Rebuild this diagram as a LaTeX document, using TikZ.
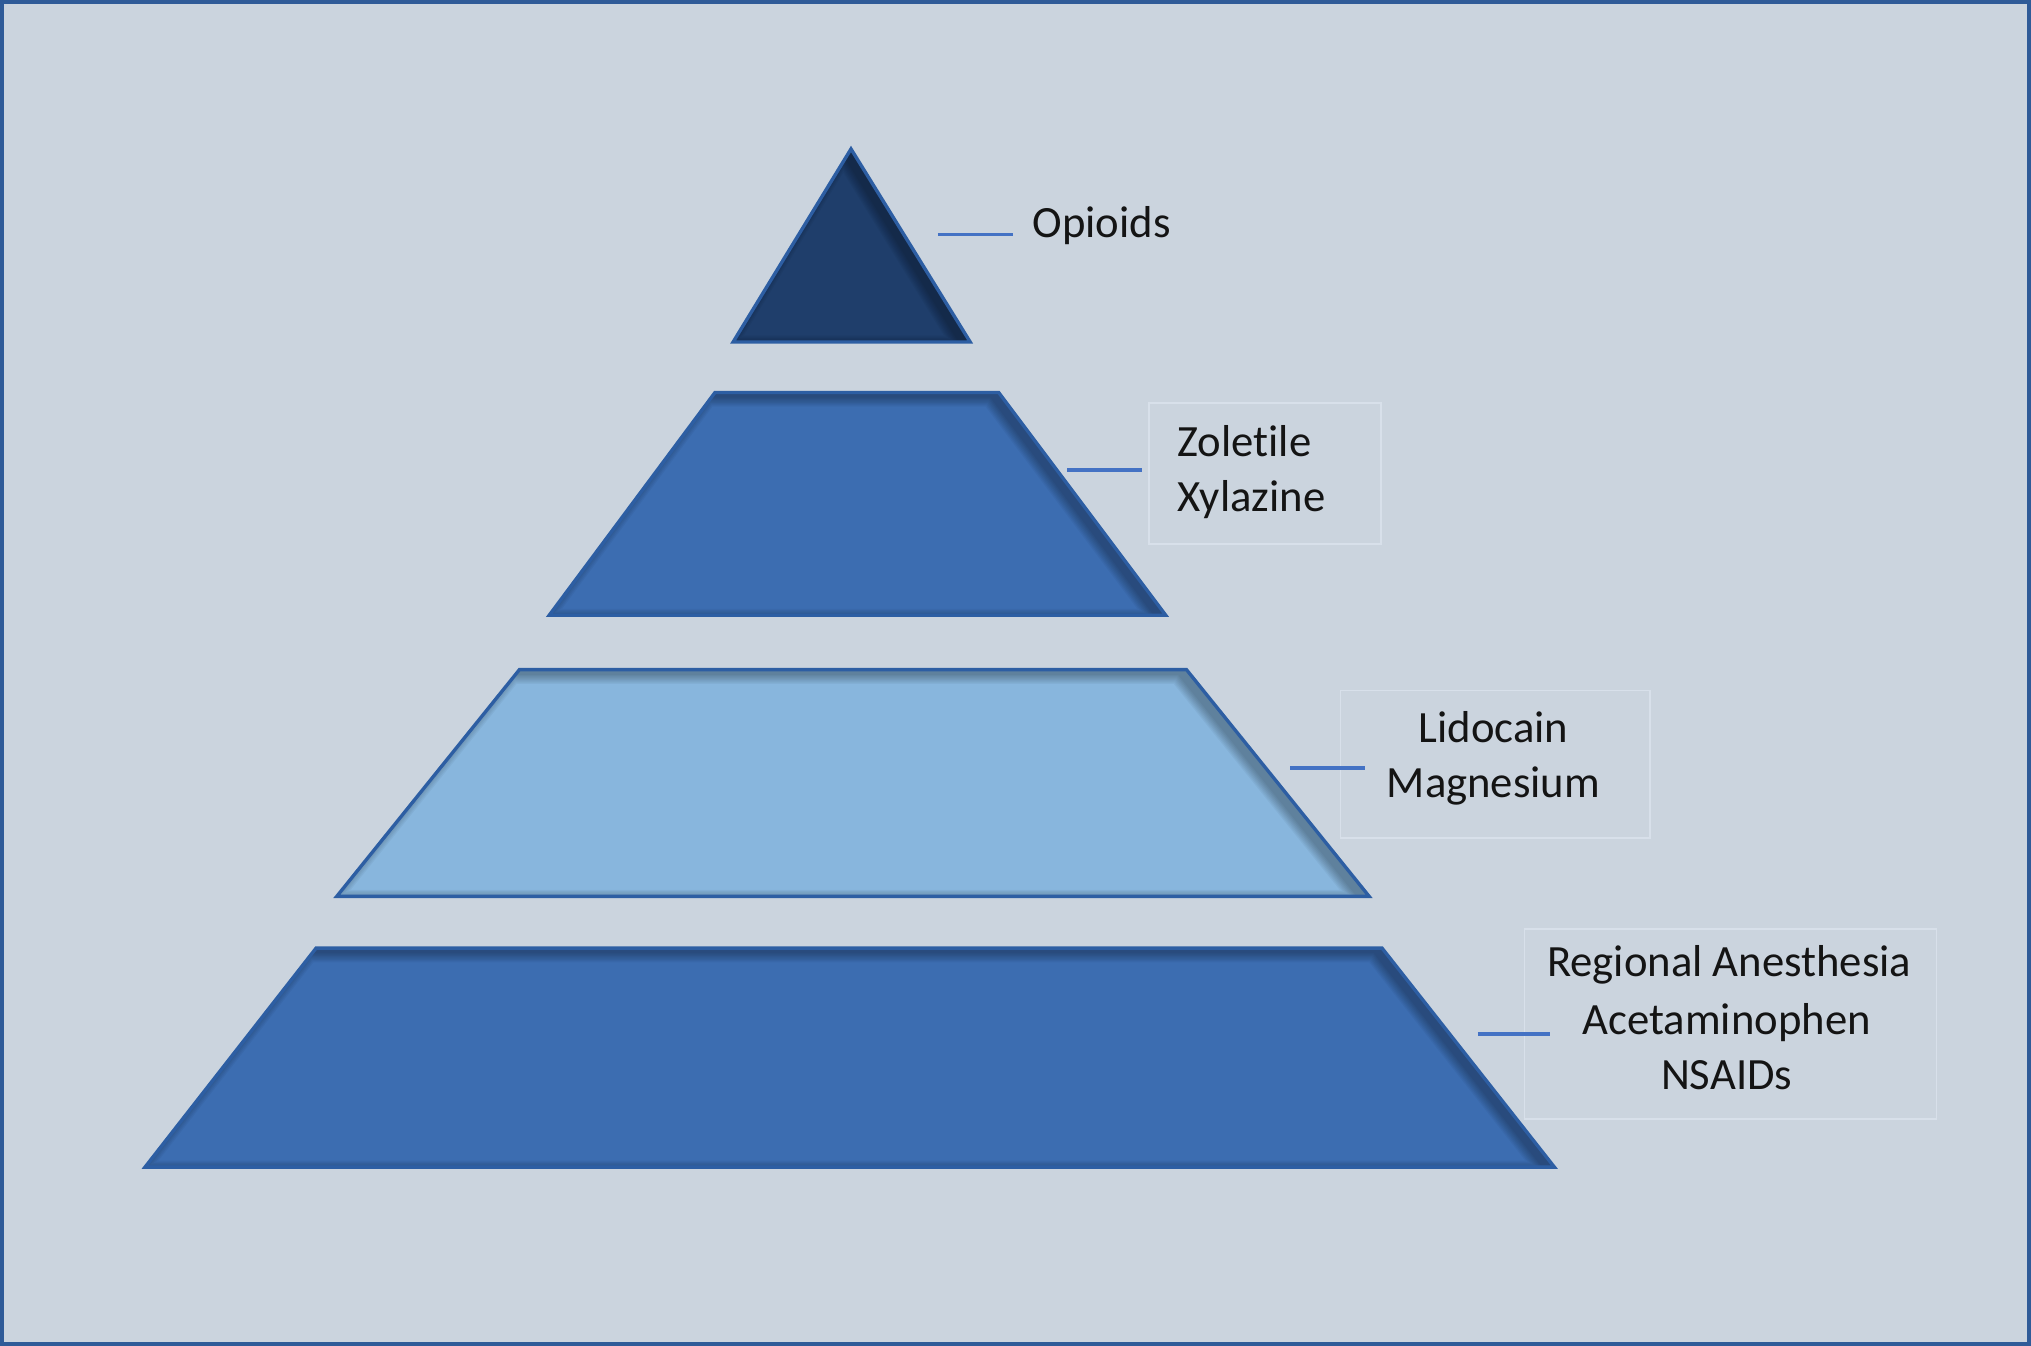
\documentclass[tikz,border=0pt]{standalone}
\usepackage{fontspec}
\setmainfont{Carlito}[Ligatures=NoCommon]
\definecolor{bg}{HTML}{CBD4DE}
\definecolor{frame}{HTML}{2F5B98}
\definecolor{navy}{HTML}{1F3E6B}
\definecolor{midblue}{HTML}{3C6DB1}
\definecolor{lightblue}{HTML}{88B6DD}
\definecolor{edge}{HTML}{2D5EA3}
\definecolor{conn}{HTML}{4472C4}
\definecolor{boxline}{HTML}{D8E0EA}
\tikzset{
  tier/.style={draw=edge, line width=2.6pt, line join=miter},
  connector/.style={draw=conn, line width=3pt},
  lbl/.style={inner sep=0pt, text=black!92, font=\fontsize{34.5}{43}\selectfont},
  labelbox/.style={draw=boxline, line width=1.2pt, fill=none, inner sep=0pt}
}
\newcommand{\tiershadow}[1]{%
  \begin{scope}
    \clip #1;
    \foreach \w in {2,4,...,16}{
      \begin{scope}[transparency group, opacity=0.04]
        \fill[black, even odd rule, shift={(-6,3)}] (-200,-200) rectangle (1800,1300) #1;
        \draw[black, line width=\w pt, line join=round, shift={(-6,3)}] #1;
      \end{scope}
    }
  \end{scope}}
\begin{document}
\begin{tikzpicture}[x=1pt,y=-1pt]
\useasboundingbox (0,0) rectangle (1568,1039);
% background and frame
\fill[bg] (0,0) rectangle (1568,1039);
\draw[frame, line width=3pt] (1.5,1.5) rectangle (1566.5,1037.5);
% tier 1 (triangle)
\fill[navy] (657,115) -- (749,264) -- (566,264) -- cycle;
\tiershadow{(657,115) -- (749,264) -- (566,264) -- cycle}
\draw[tier] (657,115) -- (749,264) -- (566,264) -- cycle;
% tier 2
\fill[midblue] (552,303) -- (771,303) -- (900,475) -- (424,475) -- cycle;
\tiershadow{(552,303) -- (771,303) -- (900,475) -- (424,475) -- cycle}
\draw[tier] (552,303) -- (771,303) -- (900,475) -- (424,475) -- cycle;
% tier 3
\fill[lightblue] (401,517) -- (916,517) -- (1057,692) -- (260,692) -- cycle;
\tiershadow{(401,517) -- (916,517) -- (1057,692) -- (260,692) -- cycle}
\draw[tier] (401,517) -- (916,517) -- (1057,692) -- (260,692) -- cycle;
% tier 4
\fill[midblue] (244,732) -- (1067,732) -- (1200,901) -- (112,901) -- cycle;
\tiershadow{(244,732) -- (1067,732) -- (1200,901) -- (112,901) -- cycle}
\draw[tier] (244,732) -- (1067,732) -- (1200,901) -- (112,901) -- cycle;
% label boxes
\node[labelbox, minimum width=179pt, minimum height=109pt] (box2) at (976.5,365.5) {};
\node[labelbox, minimum width=239pt, minimum height=114pt] (box3) at (1154.5,590) {};
\node[labelbox, minimum width=318pt, minimum height=147pt] (box4) at (1336,790.5) {};
% labels
\node[lbl, anchor=base west] (opioids) at (797,183) {Opioids};
\node[lbl, anchor=base west] (zoletile) at (909,352.7) {Zoletile};
\node[lbl, anchor=base west] (xylazine) at (909,395) {Xylazine};
\node[lbl, anchor=base] (lidocain) at (1153,573.5) {Lidocain};
\node[lbl, anchor=base] (magnesium) at (1153,615.5) {Magnesium};
\node[lbl, anchor=base] (regional) at (1335,754) {Regional Anesthesia};
\node[lbl, anchor=base] (acetaminophen) at (1333,799) {Acetaminophen};
\node[lbl, anchor=base] (nsaids) at (1333,841) {NSAIDs};
% connectors
\coordinate (c1a) at (724,181); \coordinate (c1b) at (782,181);
\coordinate (c2a) at (824,363); \coordinate (c2b) at (882,363);
\coordinate (c3a) at (996,593); \coordinate (c3b) at (1054,593);
\coordinate (c4a) at (1141,798); \coordinate (c4b) at (1197,798);
\draw[connector] (c1a) -- (c1b);
\draw[connector] (c2a) -- (c2b);
\draw[connector] (c3a) -- (c3b);
\draw[connector] (c4a) -- (c4b);
\end{tikzpicture}
\end{document}
